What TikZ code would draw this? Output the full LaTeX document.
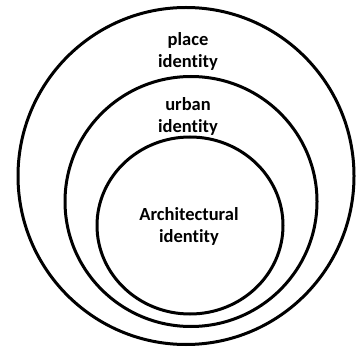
\documentclass[tikz,border=0pt]{standalone}
\usepackage{fontspec}
\setmainfont[Ligatures=NoCommon]{Carlito}
\begin{document}
\begin{tikzpicture}[x=1pt,y=-1pt,
  ring/.style={draw=black,line width=3pt},
  lbl/.style={font=\bfseries\fontsize{18.5}{22}\selectfont,align=center,inner sep=0pt}]
\useasboundingbox (0,0) rectangle (358,347);
\draw[ring] (186,176) ellipse [x radius=168, y radius=168.5];
\draw[ring] (191,201.5) ellipse [x radius=126, y radius=125];
\draw[ring] (190,225.5) ellipse [x radius=93, y radius=88.5];
\node[lbl] (place) at (188,51) {place\\identity};
\node[lbl] (urban) at (188,116) {urban\\identity};
\node[lbl] (arch) at (189,226.5) {Architectural\\identity};
\end{tikzpicture}
\end{document}
